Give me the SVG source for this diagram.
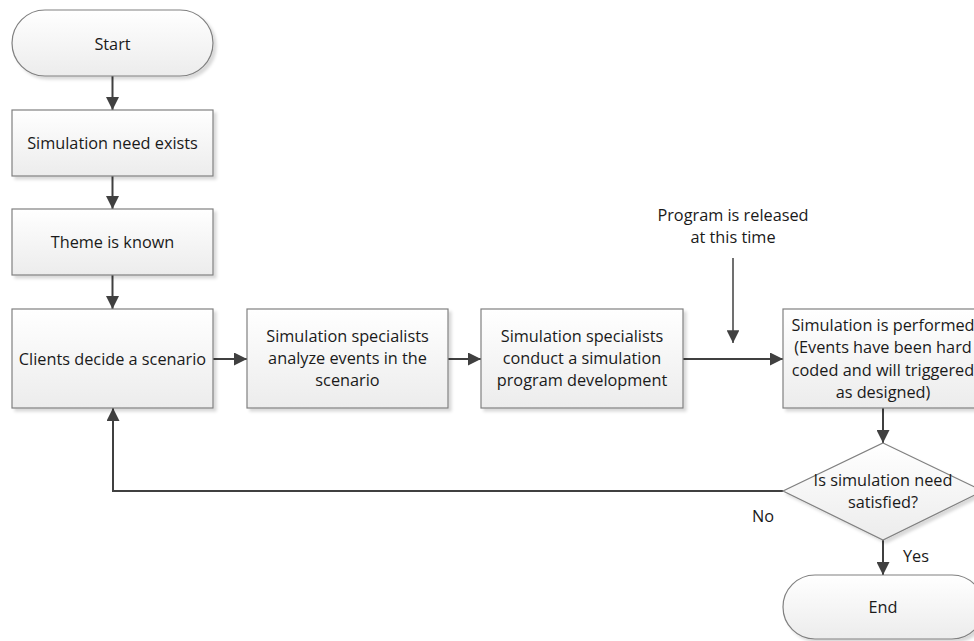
<svg xmlns="http://www.w3.org/2000/svg" width="974" height="641" viewBox="0 0 974 641">
  <defs>
    <linearGradient id="fillGrad" x1="0" y1="0" x2="0" y2="1">
      <stop offset="0" stop-color="#ffffff"/>
      <stop offset="1" stop-color="#ececec"/>
    </linearGradient>
    <filter id="shadow" x="-5%" y="-5%" width="115%" height="120%">
      <feDropShadow dx="3" dy="3" stdDeviation="1.5" flood-color="#000" flood-opacity="0.15"/>
    </filter>
    <marker id="arrow" viewBox="0 0 10 10" refX="10" refY="5" markerWidth="6.5" markerHeight="6.5" markerUnits="strokeWidth" orient="auto">
      <path d="M0,0 L10,5 L0,10 z" fill="#404040"/>
    </marker>
    <marker id="arrowThin" viewBox="0 0 10 10" refX="10" refY="5" markerWidth="8.5" markerHeight="8.5" markerUnits="strokeWidth" orient="auto">
      <path d="M0,0 L10,5 L0,10 z" fill="#404040"/>
    </marker>
  </defs>
  <style>
    .shape { fill: url(#fillGrad); stroke: #808080; stroke-width: 1.2; filter: url(#shadow); }
    .label { font-family: "Open Sans", "Liberation Sans", sans-serif; font-size: 16.3px; fill: #1a1a1a; text-anchor: middle; }
    .conn { fill: none; stroke: #404040; stroke-width: 2; marker-end: url(#arrow); }
    .connThin { fill: none; stroke: #404040; stroke-width: 1.5; marker-end: url(#arrowThin); }
  </style>

  <rect width="974" height="641" fill="#ffffff"/>

  <!-- connectors -->
  <g id="connectors">
    <path class="conn" d="M112.5,76 V110"/>
    <path class="conn" d="M112.5,176 V209"/>
    <path class="conn" d="M112.5,275 V309"/>
    <path class="conn" d="M213,359 H247"/>
    <path class="conn" d="M448,359 H481"/>
    <path class="conn" d="M683,359 H783"/>
    <path class="connThin" d="M733,258 V343"/>
    <path class="conn" d="M883,408 V443"/>
    <path class="conn" d="M883,540 V575"/>
    <path class="conn" d="M783,491 H113 V408"/>
  </g>

  <g id="start">
    <rect class="shape" x="12" y="10" width="201" height="66" rx="33" ry="33"/>
    <text class="label" x="112.5" y="50">Start</text>
  </g>

  <g id="need-exists">
    <rect class="shape" x="12" y="110" width="201" height="66"/>
    <text class="label" x="112.5" y="149">Simulation need exists</text>
  </g>

  <g id="theme-known">
    <rect class="shape" x="12" y="209" width="201" height="66"/>
    <text class="label" x="112.5" y="248">Theme is known</text>
  </g>

  <g id="clients-decide">
    <rect class="shape" x="12" y="309" width="201" height="99"/>
    <text class="label" x="112.5" y="365">Clients decide a scenario</text>
  </g>

  <g id="analyze-events">
    <rect class="shape" x="247" y="309" width="201" height="99"/>
    <text class="label" x="347.5" y="342">Simulation specialists</text>
    <text class="label" x="347.5" y="364">analyze events in the</text>
    <text class="label" x="347.5" y="386">scenario</text>
  </g>

  <g id="program-development">
    <rect class="shape" x="481" y="309" width="202" height="99"/>
    <text class="label" x="582" y="342">Simulation specialists</text>
    <text class="label" x="582" y="364">conduct a simulation</text>
    <text class="label" x="582" y="386">program development</text>
  </g>

  <g id="release-note">
    <text class="label" x="733" y="221">Program is released</text>
    <text class="label" x="733" y="243">at this time</text>
  </g>

  <g id="performed">
    <rect class="shape" x="783" y="309" width="201" height="99"/>
    <text class="label" x="883" y="331">Simulation is performed</text>
    <text class="label" x="883" y="353">(Events have been hard</text>
    <text class="label" x="883" y="376">coded and will triggered</text>
    <text class="label" x="883" y="398">as designed)</text>
  </g>

  <g id="decision">
    <polygon class="shape" points="883,443 983,491 883,540 783,491"/>
    <text class="label" x="883" y="486">Is simulation need</text>
    <text class="label" x="883" y="508">satisfied?</text>
    <text class="label" x="763" y="522">No</text>
    <text class="label" x="916" y="562">Yes</text>
  </g>

  <g id="end">
    <rect class="shape" x="783" y="575" width="201" height="64" rx="32" ry="32"/>
    <text class="label" x="883" y="613">End</text>
  </g>
</svg>
